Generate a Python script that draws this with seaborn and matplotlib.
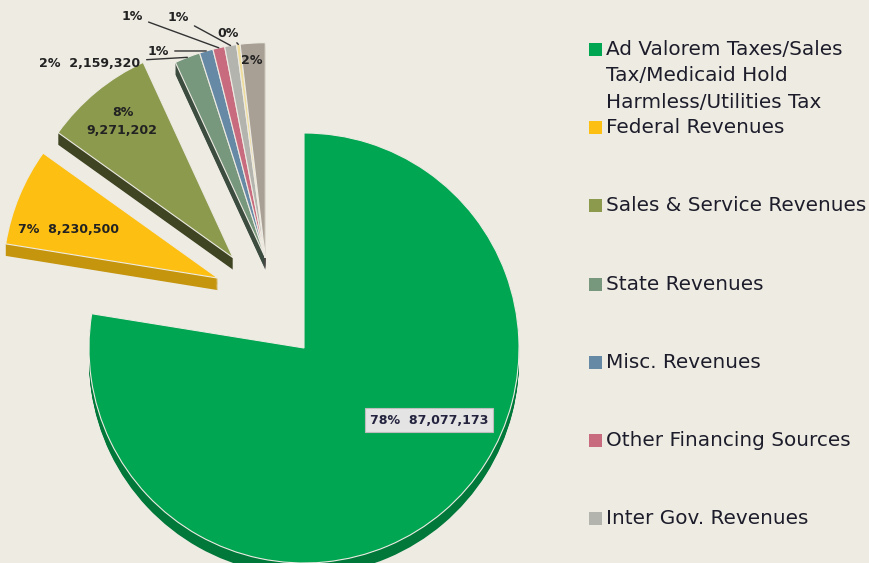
import matplotlib
matplotlib.use("Agg")
import matplotlib.pyplot as plt
from matplotlib.patches import Rectangle
import seaborn as sns
import numpy as np

# ---------------- data ----------------
categories = ["Ad Valorem Taxes/Sales\nTax/Medicaid Hold\nHarmless/Utilities Tax",
              "Federal Revenues", "Sales & Service Revenues", "State Revenues",
              "Misc. Revenues", "Other Financing Sources", "Inter Gov. Revenues",
              "Other A", "Other B"]
values = [87077173, 8230500, 9271202, 2159320, 1150000, 1000000, 1000000, 300000, 2100000]
legend_count = 7
show_amount = [True, True, True, True, False, False, False, False, False]

colors = ["#00A651", "#FDBF12", "#8C9A4E", "#78987E", "#6689A6",
          "#C96B7E", "#B4B4AE", "#EEDC9A", "#A9A095"]
side_shade = [0.72, 0.78, 0.45, 0.5, 0.5, 0.5, 0.5, 0.6, 0.55]

BG = "#EEEBE3"
sns.set_style("white", {"axes.facecolor": BG, "figure.facecolor": BG})
plt.rcParams["font.family"] = ["DejaVu Sans"]

W, H = 869, 563
fig = plt.figure(figsize=(W / 100, H / 100), dpi=100, facecolor=BG)
AXW = 570
ax = fig.add_axes([0, 0, AXW / W, 1])
ax.set_facecolor(BG)

CX, CY, R = 304, 348, 215  # pixel geometry of the pie


def P(x, y):
    return ((x - CX) / R, (CY - y) / R)


total = float(sum(values))
pcts = [v / total * 100 for v in values]

# group layout: which slices, and the group's centre (explosion)
groups = [([0], (0.0, 0.0)),
          ([1], (-0.40, 0.325)),
          ([2], (-0.33, 0.42)),
          ([3, 4, 5, 6, 7, 8], (-0.18, 0.42))]

depths = np.arange(0.056, 0.0, -0.004)


def shade(c, f):
    r, g, b = matplotlib.colors.to_rgb(c)
    return (r * f, g * f, b * f)


side_colors = [shade(c, f) for c, f in zip(colors, side_shade)]
top_wedges = {}
for idx, (cx, cy) in groups:
    for d in depths:
        wedges, _ = ax.pie(values, startangle=90, counterclock=False,
                           center=(cx, cy - d), colors=side_colors,
                           wedgeprops=dict(linewidth=0))
        for i, w in enumerate(wedges):
            if i in idx:
                w.set_zorder(1)
            else:
                w.remove()
    wedges, _ = ax.pie(values, startangle=90, counterclock=False,
                       center=(cx, cy), colors=colors,
                       wedgeprops=dict(linewidth=0.8, edgecolor=BG))
    for i, w in enumerate(wedges):
        if i in idx:
            w.set_zorder(2)
            top_wedges[i] = w
        else:
            w.remove()

ax.set_xlim(-CX / R, (AXW - CX) / R)
ax.set_ylim(-(H - CY) / R, CY / R)
ax.set_aspect("auto")
ax.axis("off")


def lab(i):
    s = f"{pcts[i]:.0f}%"
    if show_amount[i]:
        s += f"  {values[i]:,}"
    return s


lab_kw = dict(fontsize=9.1, fontweight="bold", color="#222222", zorder=5,
              ha="center", va="center")

# big slice label with box
ax.text(*P(429, 420), lab(0), bbox=dict(boxstyle="square,pad=0.4",
        facecolor="#E4E4E4", edgecolor="#BDBDBD", linewidth=0.8),
        **{**lab_kw, "color": "#23233F"})
ax.text(*P(69, 229), lab(1), **lab_kw)
ax.text(*P(123, 112), f"{pcts[2]:.0f}%", **lab_kw)
ax.text(*P(122, 130), f"{values[2]:,}", **lab_kw)


def outer_point(i, frac=1.0):
    w = top_wedges[i]
    th = np.deg2rad((w.theta1 + w.theta2) / 2)
    c = w.center
    return (c[0] + frac * w.r * np.cos(th), c[1] + frac * w.r * np.sin(th))


small_pos = {3: (90, 63), 4: (158, 51), 5: (132, 16), 6: (178, 17), 7: (228, 33)}
for i, (x, y) in small_pos.items():
    ax.annotate(lab(i), xy=outer_point(i, 1.0), xytext=P(x, y),
                arrowprops=dict(arrowstyle="-", color="#333333", lw=1.0,
                                shrinkA=2, shrinkB=0),
                **lab_kw)
ax.text(*P(252, 60), lab(8), **lab_kw)

# ---------------- legend ----------------
for k in range(legend_count):
    yc = 49.5 + k * 78.2
    fig.patches.append(Rectangle((589 / W, 1 - (yc + 6.5) / H), 13 / W, 13 / H,
                                 transform=fig.transFigure, facecolor=colors[k],
                                 edgecolor="none"))
    fig.text(606 / W, 1 - (yc - 9.5) / H, categories[k], ha="left", va="top",
             fontsize=14.4, color="#1C1C2A", linespacing=1.49)

fig.savefig("out.png", dpi=100, facecolor=BG)
